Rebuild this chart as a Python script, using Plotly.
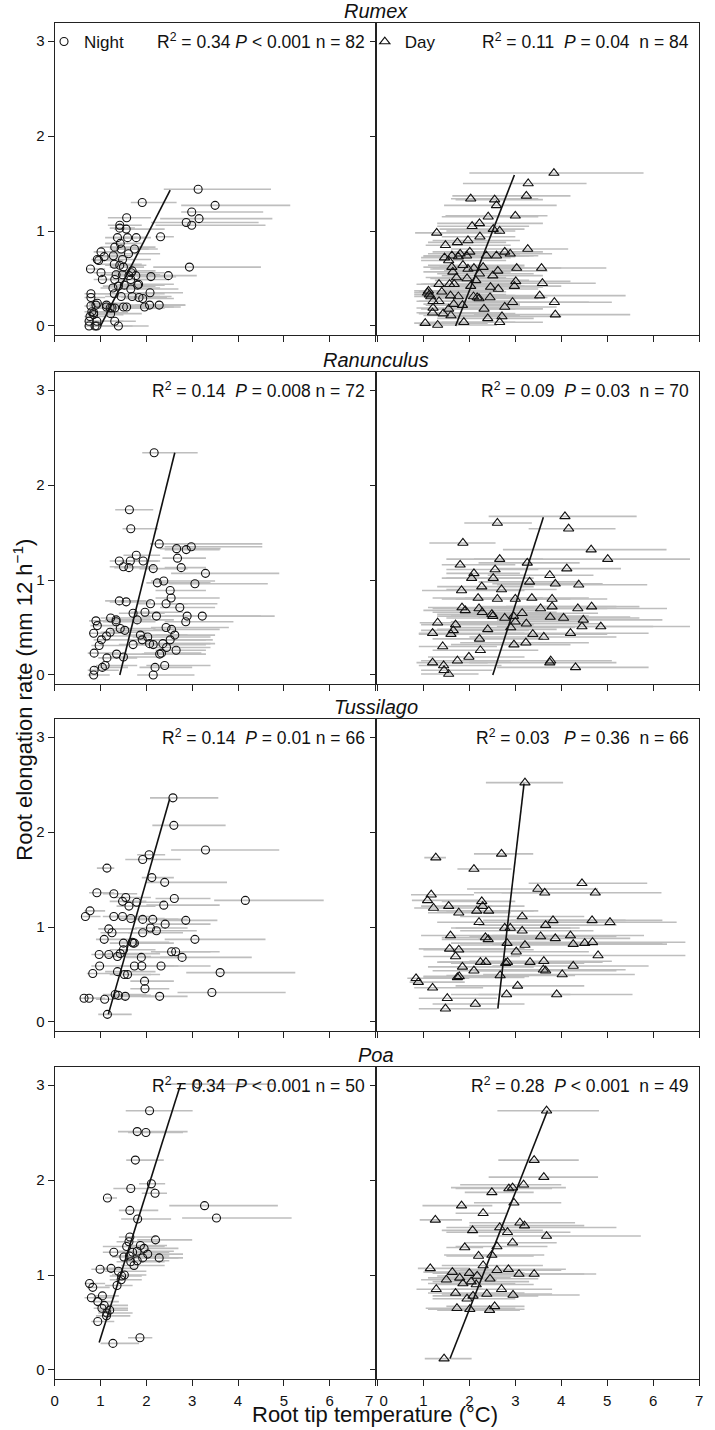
import plotly.graph_objects as go

# ---------------- data: (temperature mean, elongation rate, bar low, bar high) ----------------
rumex_night = [
(3.13,1.44,2.38,4.72),(1.91,1.30,1.66,2.66),(3.50,1.27,2.76,5.14),(2.99,1.20,2.76,4.55),
(3.15,1.13,2.30,4.75),(2.87,1.09,2.10,4.45),(2.99,1.06,2.20,4.60),(1.57,1.14,1.16,2.10),
(1.42,1.06,1.16,1.90),(1.56,1.02,1.30,2.40),(1.42,1.03,1.20,1.75),(2.31,0.94,2.19,2.60),
(1.37,0.93,1.10,1.80),(1.59,0.93,1.25,2.00),(1.78,0.93,1.50,2.10),(1.43,0.87,1.10,1.90),
(1.31,0.83,1.00,2.20),(1.45,0.81,1.20,2.25),(1.74,0.81,1.40,2.05),(1.01,0.78,0.85,1.40),
(1.61,0.76,1.20,2.30),(1.08,0.73,0.90,1.60),(0.93,0.70,0.80,1.40),(0.96,0.69,0.85,1.50),
(1.28,0.74,1.05,1.70),(1.48,0.70,1.15,2.10),(1.30,0.65,1.00,1.90),(1.42,0.64,1.10,2.00),
(1.50,0.62,1.20,1.95),(2.94,0.62,2.15,4.50),(0.78,0.60,0.70,1.10),(1.01,0.56,0.85,1.50),
(1.69,0.58,1.30,2.20),(1.34,0.54,1.00,2.00),(1.48,0.54,1.15,2.30),(1.62,0.53,1.30,2.55),
(1.77,0.53,1.40,2.10),(2.10,0.52,1.80,2.65),(2.48,0.53,2.20,3.10),(1.04,0.49,0.85,1.60),
(1.31,0.49,1.00,2.10),(1.66,0.49,1.30,2.50),(1.83,0.44,1.40,2.60),(1.81,0.43,1.35,2.40),
(1.39,0.42,1.05,2.20),(1.27,0.40,1.00,2.30),(1.66,0.39,1.30,2.70),(2.08,0.35,1.75,2.80),
(0.79,0.34,0.65,1.20),(1.30,0.34,0.95,2.40),(0.79,0.30,0.65,1.10),(1.45,0.31,1.10,2.30),
(1.69,0.31,1.35,2.55),(1.84,0.30,1.45,2.45),(1.92,0.29,1.55,2.60),(0.93,0.24,0.75,1.50),
(0.90,0.22,0.75,1.30),(0.79,0.21,0.65,1.20),(1.13,0.20,0.85,2.00),(1.25,0.19,0.95,2.40),
(1.31,0.19,1.00,2.20),(1.50,0.20,1.15,2.60),(1.57,0.20,1.20,2.50),(1.96,0.20,1.60,2.75),
(2.07,0.22,1.75,2.85),(2.28,0.22,1.85,2.85),(0.81,0.15,0.65,1.40),(0.85,0.14,0.70,1.60),
(0.77,0.10,0.65,1.30),(0.75,0.05,0.65,1.20),(0.92,0.05,0.75,1.50),(1.31,0.05,1.00,1.77),
(0.75,0.00,0.65,1.40),(0.88,0.00,0.75,1.60),(0.92,0.00,0.80,1.70),(1.39,0.00,1.05,2.05),
(0.85,0.12,0.70,1.50),(1.21,0.19,0.95,2.10),(1.13,0.22,0.90,1.90),(1.67,0.56,1.30,2.40),
(1.52,0.43,1.20,2.20),(1.22,0.13,0.95,1.90),
]
rumex_day = [
(3.84,1.61,2.00,5.79),(3.28,1.50,1.86,4.55),(3.24,1.37,1.63,4.20),(2.03,1.34,1.60,3.50),
(2.55,1.33,1.70,3.60),(2.59,1.27,1.45,3.90),(3.00,1.16,1.48,3.70),(2.41,1.15,1.40,3.50),
(2.06,1.05,1.30,3.30),(2.22,1.08,1.30,3.60),(2.52,1.02,1.35,3.20),(2.66,1.00,1.50,3.00),
(1.29,0.98,0.82,2.70),(1.97,0.90,1.20,3.10),(2.23,0.94,1.40,3.00),(1.48,0.85,1.05,2.90),
(1.74,0.88,1.10,2.80),(3.27,0.81,1.60,4.15),(1.46,0.72,0.95,2.90),(1.62,0.74,1.00,3.20),
(1.76,0.73,1.00,3.00),(1.80,0.76,1.10,3.10),(1.94,0.74,1.10,3.40),(2.37,0.74,1.30,3.30),
(2.59,0.74,1.40,3.50),(2.77,0.78,1.50,3.60),(2.89,0.76,1.60,3.80),(1.55,0.69,0.95,2.80),
(1.62,0.62,1.00,3.00),(1.86,0.64,1.10,3.20),(2.10,0.61,1.20,3.10),(1.97,0.60,1.15,3.00),
(2.22,0.55,1.30,3.40),(3.03,0.61,1.70,4.00),(3.57,0.61,2.00,4.98),(1.64,0.57,1.00,2.90),
(1.72,0.51,1.05,2.80),(2.51,0.53,1.40,3.60),(2.14,0.48,1.25,3.30),(1.34,0.44,0.85,2.70),
(1.57,0.44,0.95,2.80),(1.67,0.44,1.00,2.90),(2.03,0.42,1.15,3.20),(2.46,0.41,1.35,3.60),
(2.63,0.39,1.45,3.50),(2.98,0.42,1.60,4.00),(3.01,0.47,1.70,4.20),(3.59,0.45,2.00,4.75),
(1.11,0.37,0.80,2.60),(1.13,0.33,0.80,2.80),(1.59,0.32,0.95,3.00),(1.76,0.31,1.00,3.30),
(2.09,0.31,1.20,3.40),(2.17,0.30,1.25,3.20),(2.21,0.29,1.30,3.50),(2.45,0.30,1.40,3.70),
(3.53,0.32,1.90,5.40),(1.21,0.26,0.85,2.90),(1.34,0.26,0.90,3.00),(1.66,0.23,1.00,3.10),
(2.94,0.25,1.60,4.60),(3.85,0.25,2.10,5.10),(1.21,0.19,0.85,2.80),(1.55,0.18,0.95,3.00),
(2.32,0.18,1.30,3.60),(1.20,0.14,0.85,2.70),(1.43,0.13,0.90,3.00),(1.60,0.11,1.00,3.10),
(2.71,0.10,1.50,4.00),(3.87,0.12,2.10,5.50),(1.04,0.03,0.80,2.40),(1.31,0.01,0.90,2.60),
(1.88,0.04,1.10,3.00),(2.66,0.04,1.40,3.60),(1.09,0.35,0.80,2.50),(1.16,0.31,0.80,2.60),
(2.01,0.78,1.20,3.00),(2.30,0.62,1.35,3.20),(1.85,0.22,1.05,3.10),(2.40,0.08,1.30,3.40),
(1.40,0.36,0.90,2.80),(2.77,0.20,1.50,3.90),(1.95,0.50,1.15,3.00),(2.62,0.58,1.45,3.70),
]
ranunculus_night = [
(2.17,2.34,1.91,3.12),(1.63,1.74,1.32,2.15),(1.66,1.54,1.48,2.26),(2.28,1.38,2.08,4.53),
(2.66,1.33,2.30,3.62),(2.87,1.32,2.40,3.60),(2.98,1.35,2.40,4.53),(1.78,1.26,1.50,2.30),
(2.68,1.23,2.35,3.30),(1.41,1.20,1.20,2.10),(1.65,1.20,1.35,2.25),(1.93,1.20,1.60,2.30),
(1.50,1.14,1.20,2.20),(1.62,1.13,1.30,2.10),(2.15,1.12,1.85,2.90),(2.76,1.13,2.40,3.30),
(3.29,1.07,2.54,4.90),(2.24,0.97,2.00,3.40),(2.38,0.99,2.10,3.50),(3.06,0.96,2.50,4.65),
(2.52,0.89,2.20,3.30),(2.54,0.81,2.20,3.60),(1.41,0.78,1.10,2.00),(1.56,0.77,1.20,2.10),
(2.09,0.75,1.80,2.90),(2.43,0.75,2.10,3.55),(2.73,0.71,2.30,3.50),(1.71,0.65,1.40,2.40),
(2.22,0.62,1.90,3.30),(2.89,0.62,2.40,4.50),(3.22,0.62,2.60,4.80),(1.80,0.58,1.45,2.60),
(0.90,0.57,0.75,1.30),(0.93,0.52,0.78,1.40),(1.22,0.60,1.00,2.10),(1.34,0.58,1.10,1.90),
(1.34,0.56,1.05,2.20),(2.86,0.56,2.40,3.90),(0.85,0.44,0.75,1.50),(1.02,0.37,0.85,1.70),
(1.13,0.41,0.95,1.90),(1.21,0.45,1.00,2.00),(1.43,0.49,1.15,2.20),(1.53,0.47,1.20,2.40),
(2.43,0.50,2.10,3.80),(2.55,0.48,2.15,3.60),(2.62,0.42,2.20,3.50),(1.87,0.42,1.55,2.90),
(2.03,0.40,1.70,3.40),(1.91,0.37,1.60,3.30),(2.07,0.33,1.75,3.40),(2.15,0.32,1.80,3.30),
(2.36,0.33,2.00,3.50),(2.52,0.37,2.15,3.45),(1.71,0.32,1.40,2.70),(0.97,0.31,0.80,1.60),
(2.44,0.29,2.05,3.40),(2.65,0.26,2.20,3.30),(0.86,0.23,0.72,1.40),(1.35,0.22,1.10,2.00),
(1.50,0.19,1.20,2.30),(1.14,0.18,0.95,1.80),(2.29,0.22,1.90,3.30),(2.33,0.23,1.95,3.20),
(2.40,0.10,2.00,3.40),(2.19,0.08,1.85,3.00),(1.10,0.10,0.90,1.80),(1.04,0.08,0.85,1.60),
(0.86,0.05,0.72,1.40),(0.85,0.00,0.72,1.20),(2.15,0.00,1.80,3.05),(1.97,0.66,1.65,2.80),
]
ranunculus_day = [
(4.08,1.67,2.42,5.64),(2.61,1.60,1.89,3.36),(4.16,1.54,3.29,5.18),(1.86,1.39,1.13,2.57),
(4.65,1.32,2.73,6.29),(5.01,1.22,2.10,6.80),(2.66,1.22,1.50,3.60),(3.26,1.18,2.20,4.40),
(1.80,1.16,1.40,3.00),(4.12,1.12,2.60,5.30),(2.56,1.11,1.50,3.50),(2.10,1.07,1.50,3.10),
(2.05,1.02,1.40,3.30),(2.52,1.02,1.50,3.40),(3.75,1.05,2.40,4.70),(3.31,0.98,2.20,4.40),
(3.87,0.96,2.50,4.90),(4.38,0.95,2.60,5.87),(2.27,0.93,1.30,3.40),(1.83,0.89,0.97,3.20),
(2.19,0.81,1.20,3.60),(2.61,0.80,1.40,3.80),(3.00,0.80,1.70,4.20),(3.36,0.81,1.90,4.60),
(3.80,0.80,2.30,5.00),(3.80,0.72,2.20,5.20),(1.84,0.71,1.10,3.40),(1.91,0.68,1.00,3.50),
(2.21,0.70,1.20,3.80),(2.28,0.66,1.20,3.90),(2.49,0.64,1.30,4.10),(2.51,0.62,1.30,4.00),
(4.36,0.70,2.60,6.30),(4.66,0.72,2.80,5.70),(3.15,0.65,1.80,4.80),(2.77,0.60,1.50,4.50),
(2.96,0.62,1.60,4.60),(3.00,0.56,1.60,4.40),(3.76,0.61,2.20,5.50),(4.05,0.60,2.40,5.70),
(4.48,0.58,2.60,6.20),(4.45,0.51,2.60,6.00),(4.86,0.51,2.80,6.80),(1.31,0.55,0.92,3.00),
(1.70,0.53,0.95,3.40),(1.20,0.44,0.90,3.20),(1.60,0.43,0.90,3.50),(1.65,0.47,0.95,3.30),
(3.24,0.54,1.80,4.90),(3.38,0.43,1.90,5.00),(3.62,0.40,2.00,5.20),(4.20,0.44,2.40,5.90),
(2.22,0.38,1.20,3.60),(1.42,0.30,0.90,2.60),(2.97,0.32,1.60,4.20),(3.23,0.34,1.80,4.60),
(2.24,0.26,1.20,3.50),(1.99,0.19,1.10,3.20),(1.74,0.15,0.95,2.90),(1.20,0.13,0.85,2.40),
(1.44,0.10,0.90,2.70),(3.77,0.15,2.00,5.10),(3.75,0.13,2.00,5.20),(4.31,0.08,2.60,5.90),
(1.55,0.01,0.95,2.20),(1.45,0.05,0.95,2.50),(2.90,0.50,1.60,4.30),(2.40,0.48,1.30,3.90),
(3.55,0.70,2.00,5.00),(2.70,0.90,1.50,3.90),
]
tussilago_night = [
(2.58,2.36,2.08,3.57),(2.60,2.07,2.13,3.73),(3.29,1.81,2.54,4.90),(2.06,1.76,1.80,2.41),
(1.92,1.71,1.54,2.75),(1.14,1.62,0.92,1.30),(2.12,1.52,1.90,2.60),(2.40,1.47,2.00,3.76),
(0.92,1.36,0.75,1.30),(1.29,1.35,1.05,1.80),(1.55,1.31,1.30,2.10),(2.61,1.30,2.20,3.40),
(4.16,1.28,3.48,5.87),(1.48,1.27,1.20,2.00),(1.79,1.26,1.50,2.40),(1.62,1.22,1.35,2.20),
(2.38,1.23,2.00,3.60),(0.77,1.17,0.65,1.10),(0.67,1.11,0.60,1.00),(1.29,1.11,1.05,1.90),
(1.48,1.11,1.20,2.10),(1.66,1.09,1.40,2.40),(1.92,1.08,1.60,2.70),(2.14,1.08,1.80,2.90),
(2.86,1.07,2.30,3.55),(2.41,1.03,2.00,3.40),(1.18,0.98,0.95,1.80),(1.25,0.94,1.00,2.00),
(2.09,0.99,1.75,2.90),(2.22,0.96,1.85,3.10),(1.92,0.94,1.60,2.80),(1.08,0.87,0.90,1.70),
(1.50,0.83,1.20,2.30),(1.69,0.84,1.40,2.50),(1.74,0.83,1.45,2.60),(3.06,0.87,2.40,4.60),
(1.50,0.76,1.20,2.20),(1.43,0.72,1.15,2.30),(1.37,0.69,1.10,2.10),(0.97,0.71,0.80,1.60),
(1.18,0.71,0.95,1.90),(1.89,0.68,1.55,2.80),(2.55,0.74,2.10,3.40),(2.64,0.74,2.20,3.60),
(2.78,0.68,2.30,4.30),(0.98,0.59,0.80,1.70),(1.74,0.59,1.45,2.60),(1.90,0.59,1.55,2.70),
(2.32,0.59,1.95,3.40),(0.83,0.51,0.70,1.40),(1.37,0.53,1.10,2.20),(1.52,0.50,1.20,2.30),
(1.59,0.50,1.30,2.10),(3.61,0.52,2.87,5.25),(1.96,0.43,1.65,2.60),(1.97,0.35,1.65,2.50),
(3.43,0.31,2.68,5.04),(0.64,0.25,0.55,1.00),(0.75,0.25,0.62,1.10),(1.09,0.24,0.90,1.60),
(1.32,0.29,1.05,2.00),(1.39,0.28,1.10,2.10),(1.54,0.27,1.25,2.20),(2.29,0.27,1.90,2.90),
(1.15,0.08,0.95,1.68),(1.71,0.83,1.40,2.40),
]
tussilago_day = [
(3.21,2.52,2.36,4.04),(2.70,1.77,2.10,3.39),(1.27,1.73,1.02,1.49),(2.10,1.61,1.74,2.92),
(4.45,1.46,3.29,5.87),(3.49,1.40,1.95,4.80),(3.64,1.36,2.10,4.90),(4.74,1.36,2.70,6.18),
(1.17,1.34,0.73,2.10),(1.09,1.28,0.75,2.20),(1.22,1.20,0.80,2.30),(1.55,1.22,0.95,2.50),
(2.27,1.27,1.40,3.00),(2.29,1.22,1.40,3.20),(2.16,1.17,1.30,3.40),(2.42,1.17,1.50,3.50),
(1.77,1.15,1.10,2.90),(3.15,1.11,1.80,4.50),(2.21,1.05,1.30,3.80),(3.82,1.07,2.30,5.40),
(4.67,1.07,2.90,6.20),(5.06,1.05,3.00,6.51),(3.66,1.02,2.20,5.20),(2.77,0.99,1.60,4.20),
(2.89,0.99,1.70,4.40),(3.15,0.96,1.80,4.70),(1.59,0.91,0.95,3.00),(2.41,0.87,1.40,3.80),
(3.55,0.90,2.00,5.20),(3.87,0.88,2.20,5.50),(4.20,0.91,2.50,5.80),(4.26,0.82,2.50,6.30),
(4.51,0.83,2.70,6.20),(4.68,0.84,2.80,6.70),(2.82,0.83,1.60,4.40),(3.21,0.81,1.80,4.80),
(1.57,0.77,0.90,3.20),(1.77,0.76,1.00,3.40),(3.02,0.74,1.70,4.60),(4.80,0.70,2.90,6.70),
(2.24,0.63,1.30,3.80),(2.36,0.63,1.35,3.90),(2.79,0.62,1.60,4.50),(2.83,0.63,1.60,4.40),
(3.32,0.63,1.90,4.90),(3.62,0.64,2.00,5.10),(1.85,0.58,1.10,3.40),(2.10,0.54,1.20,3.70),
(3.61,0.55,2.00,5.40),(3.66,0.54,2.10,5.20),(4.26,0.59,2.50,5.90),(1.74,0.47,1.00,3.20),
(1.78,0.48,1.00,3.30),(2.67,0.49,1.50,4.30),(4.02,0.50,2.30,5.60),(0.84,0.46,0.65,2.00),
(0.89,0.42,0.70,1.90),(1.20,0.36,0.80,2.30),(1.52,0.25,0.90,2.60),(2.13,0.19,1.20,3.20),
(2.81,0.29,1.60,4.20),(3.90,0.29,2.20,5.55),(1.48,0.14,0.90,2.60),(2.35,0.89,1.40,3.70),
(1.70,0.69,1.00,3.10),(3.05,0.38,1.70,4.50),
]
poa_night = [
(3.12,3.01,2.41,4.78),(2.07,2.73,1.55,3.01),(1.80,2.51,1.38,2.90),(1.99,2.50,1.60,2.80),
(1.76,2.21,1.56,2.38),(2.11,1.96,1.84,2.41),(1.66,1.91,1.28,2.20),(2.19,1.86,1.90,2.45),
(1.15,1.81,1.10,1.36),(3.27,1.73,2.50,4.87),(1.64,1.68,1.40,2.26),(3.53,1.60,2.78,5.17),
(1.81,1.59,1.45,2.54),(1.64,1.40,1.40,2.20),(2.20,1.37,1.80,3.00),(1.57,1.30,1.05,2.40),
(1.87,1.31,1.55,2.45),(1.29,1.24,1.05,1.90),(1.80,1.25,1.40,2.60),(1.51,1.19,1.25,2.30),
(1.63,1.20,1.30,2.50),(2.03,1.22,1.70,2.80),(1.92,1.18,1.60,2.70),(2.28,1.18,1.90,2.80),
(1.66,1.14,1.35,2.40),(1.80,1.15,1.45,2.50),(0.99,1.06,0.80,1.50),(1.23,1.07,1.00,1.80),
(1.39,1.04,1.10,2.00),(1.46,0.99,1.20,1.90),(1.52,1.00,1.25,2.00),(0.76,0.91,0.65,1.10),
(0.83,0.87,0.70,1.20),(1.36,0.89,1.10,1.70),(0.80,0.76,0.65,1.30),(1.04,0.78,0.85,1.40),
(0.94,0.72,0.80,1.40),(1.08,0.68,0.90,1.60),(1.20,0.63,0.95,1.60),(1.13,0.57,0.90,1.65),
(0.94,0.51,0.80,1.30),(1.86,0.34,1.60,2.13),(1.27,0.28,1.00,1.84),(1.62,1.35,1.35,2.30),
(1.70,1.24,1.40,2.50),(1.14,0.60,0.95,1.70),(1.45,0.95,1.20,1.90),(1.95,1.28,1.60,2.70),
(1.73,1.10,1.45,2.40),(1.03,0.65,0.85,1.60),
]
poa_day = [
(3.68,2.73,2.61,4.82),(3.41,2.21,2.63,4.38),(3.62,2.03,2.42,4.80),(3.18,1.95,1.80,4.00),
(2.94,1.92,1.60,4.10),(2.86,1.91,1.70,3.80),(2.49,1.87,1.90,3.40),(2.97,1.76,2.10,4.00),
(1.83,1.73,0.98,2.50),(2.30,1.65,1.70,2.80),(1.26,1.58,0.92,1.84),(2.66,1.50,1.50,5.20),
(3.20,1.52,2.00,4.50),(2.07,1.47,1.40,3.60),(2.83,1.45,1.50,4.20),(3.68,1.41,2.20,5.73),
(2.94,1.34,1.90,3.90),(1.90,1.29,1.50,2.30),(2.49,1.21,1.45,3.63),(1.15,1.07,0.88,2.00),
(1.63,1.03,1.00,2.70),(1.79,0.97,1.10,2.90),(1.86,0.91,1.10,3.00),(2.04,0.93,1.20,3.30),
(2.17,0.99,1.30,3.50),(2.45,0.96,1.40,3.50),(2.60,1.05,1.60,4.00),(2.85,1.06,1.80,4.10),
(3.08,1.01,1.80,4.50),(3.41,1.01,2.00,4.76),(2.15,0.90,1.30,3.40),(1.28,0.85,0.85,2.30),
(1.70,0.81,1.10,3.20),(2.08,0.78,1.20,3.50),(2.38,0.80,1.40,3.80),(2.95,0.79,1.80,4.40),
(1.73,0.65,1.05,3.00),(2.01,0.64,1.10,3.20),(2.44,0.63,1.30,3.10),(2.55,0.67,1.50,3.20),
(1.45,0.12,1.03,2.05),(2.30,1.10,1.40,3.60),(1.95,0.75,1.20,3.00),(2.70,0.85,1.60,3.80),
(2.20,1.20,1.50,3.40),(1.50,0.95,0.95,2.60),(2.60,1.30,1.70,3.70),(3.10,1.55,2.00,4.30),
(2.00,1.02,1.20,3.20),
]

# regression line end points (x, y)
rumex_night_fit_x, rumex_night_fit_y = [1.00, 2.52], [0.00, 1.43]
rumex_day_fit_x, rumex_day_fit_y = [1.70, 2.98], [0.00, 1.59]
ranunculus_night_fit_x, ranunculus_night_fit_y = [1.42, 2.62], [0.00, 2.34]
ranunculus_day_fit_x, ranunculus_day_fit_y = [2.51, 3.61], [0.00, 1.66]
tussilago_night_fit_x, tussilago_night_fit_y = [1.17, 2.51], [0.08, 2.35]
tussilago_day_fit_x, tussilago_day_fit_y = [2.62, 3.19], [0.14, 2.51]
poa_night_fit_x, poa_night_fit_y = [0.97, 2.75], [0.29, 3.01]
poa_day_fit_x, poa_day_fit_y = [1.58, 3.70], [0.12, 2.73]

species = ["Rumex", "Ranunculus", "Tussilago", "Poa"]
stats_night = ["R<sup>2</sup> = 0.34 <i>P</i> < 0.001 n = 82",
               "R<sup>2</sup> = 0.14  <i>P</i> = 0.008 n = 72",
               "R<sup>2</sup> = 0.14  <i>P</i> = 0.01 n = 66",
               "R<sup>2</sup> = 0.34  <i>P</i> < 0.001 n = 50"]
stats_day = ["R<sup>2</sup> = 0.11  <i>P</i> = 0.04  n = 84",
             "R<sup>2</sup> = 0.09  <i>P</i> = 0.03  n = 70",
             "R<sup>2</sup> = 0.03   <i>P</i> = 0.36  n = 66",
             "R<sup>2</sup> = 0.28  <i>P</i> < 0.001  n = 49"]
x_ticks = [0, 1, 2, 3, 4, 5, 6, 7]
x_labels_left = ["0", "1", "2", "3", "4", "5", "6", "7\u00a0\u00a0\u00a0"]
x_labels_right = ["\u00a0\u00a0\u00a00", "1", "2", "3", "4", "5", "6", "7"]
y_ticks = [0, 1, 2, 3]

night_sets = [(rumex_night, rumex_night_fit_x, rumex_night_fit_y),
              (ranunculus_night, ranunculus_night_fit_x, ranunculus_night_fit_y),
              (tussilago_night, tussilago_night_fit_x, tussilago_night_fit_y),
              (poa_night, poa_night_fit_x, poa_night_fit_y)]
day_sets = [(rumex_day, rumex_day_fit_x, rumex_day_fit_y),
            (ranunculus_day, ranunculus_day_fit_x, ranunculus_day_fit_y),
            (tussilago_day, tussilago_day_fit_x, tussilago_day_fit_y),
            (poa_day, poa_day_fit_x, poa_day_fit_y)]

# ---------------- layout geometry (page pixels) ----------------
W, H = 715, 1430


def px(v):
    return v / W


def py(v):
    return 1 - v / H


XD = [[px(46), px(376)], [px(378), px(709)]]
PANEL_TOP = [23, 372, 719, 1067]
PANEL_H = 312
FONT = "Arial, Liberation Sans, sans-serif"
BAR_COLOR = "#bebebe"


def ax_id(i):
    return "" if i == 1 else str(i)


fig = go.Figure()
layout = dict(width=W, height=H, margin=dict(l=0, r=0, t=0, b=0),
              paper_bgcolor="white", plot_bgcolor="white",
              font=dict(family=FONT, color="#111"))
annotations = []

for r in range(4):
    for c in range(2):
        i = r * 2 + c + 1
        a = ax_id(i)
        pts, fx, fy = (night_sets if c == 0 else day_sets)[r]
        xs = [p[0] for p in pts]
        ys = [p[1] for p in pts]
        plus = [p[3] - p[0] for p in pts]
        minus = [p[0] - p[2] for p in pts]
        sym = "circle-open" if c == 0 else "triangle-up-open"
        fig.add_trace(go.Scatter(
            x=xs, y=ys, mode="markers", xaxis=f"x{a}", yaxis=f"y{a}",
            name="Night" if c == 0 else "Day",
            showlegend=(r == 0), legend="legend" if c == 0 else "legend2",
            marker=dict(symbol=sym, size=8 if c == 0 else 9, color="#111",
                        line=dict(width=1.1, color="#111")),
            error_x=dict(type="data", symmetric=False, array=plus, arrayminus=minus,
                         color=BAR_COLOR, thickness=1.6, width=0),
        ))
        fig.add_trace(go.Scatter(
            x=fx, y=fy, mode="lines", xaxis=f"x{a}", yaxis=f"y{a}",
            showlegend=False, line=dict(color="#111", width=1.6),
        ))
        top = PANEL_TOP[r]
        yd = [py(top + PANEL_H), py(top)]
        layout[f"xaxis{a}"] = dict(
            domain=XD[c], anchor=f"y{a}", range=[0, 7], tickvals=x_ticks,
            ticktext=x_labels_left if c == 0 else x_labels_right,
            showticklabels=(r == 3), ticks="outside", ticklen=6, tickwidth=1.3,
            ticklabelstandoff=2,
            tickcolor="#222", showline=True, linecolor="#222", linewidth=1.3,
            mirror=True, showgrid=False, zeroline=False,
            tickfont=dict(size=15, family=FONT, color="#111"))
        layout[f"yaxis{a}"] = dict(
            domain=yd, anchor=f"x{a}", range=[-0.095, 3.19], tickvals=y_ticks,
            showticklabels=(c == 0), ticks="outside", ticklen=6, tickwidth=1.3,
            tickcolor="#222", showline=True, linecolor="#222", linewidth=1.3,
            mirror=True, showgrid=False, zeroline=False,
            tickfont=dict(size=15, family=FONT, color="#111"))
        annotations.append(dict(
            text=(stats_night if c == 0 else stats_day)[r],
            xref=f"x{a} domain", yref=f"y{a}", x=0.975, y=3.0,
            xanchor="right", yanchor="middle", showarrow=False,
            font=dict(size=17.5, family=FONT, color="#111")))
    annotations.append(dict(
        text=f"<i>{species[r]}</i>", xref="paper", yref="paper",
        x=px(377), y=py(PANEL_TOP[r] - 12), xanchor="center", yanchor="middle",
        showarrow=False, font=dict(size=20, family=FONT, color="#111")))

annotations.append(dict(
    text="Root elongation rate (mm 12 h<sup>\u22121</sup>)", xref="paper", yref="paper",
    x=px(13), y=py(700), textangle=-90, xanchor="center", yanchor="middle",
    showarrow=False, font=dict(size=22, family=FONT, color="#111")))
annotations.append(dict(
    text="Root tip temperature (\u00b0C)", xref="paper", yref="paper",
    x=px(376), y=py(1414), xanchor="center", yanchor="middle",
    showarrow=False, font=dict(size=22, family=FONT, color="#111")))

layout["annotations"] = annotations
layout["legend"] = dict(x=px(35), y=py(42), xanchor="left", yanchor="middle",
                        bgcolor="rgba(0,0,0,0)", font=dict(size=17, family=FONT, color="#111"),
                        itemwidth=30, borderwidth=0)
layout["legend2"] = dict(x=px(365), y=py(42), xanchor="left", yanchor="middle",
                         bgcolor="rgba(0,0,0,0)", font=dict(size=17, family=FONT, color="#111"),
                         itemwidth=30, borderwidth=0)
fig.update_layout(**layout)
fig.write_html("out.html", config={"displayModeBar": False},
               post_script="document.body.style.margin='0px';document.body.style.overflow='hidden';")
